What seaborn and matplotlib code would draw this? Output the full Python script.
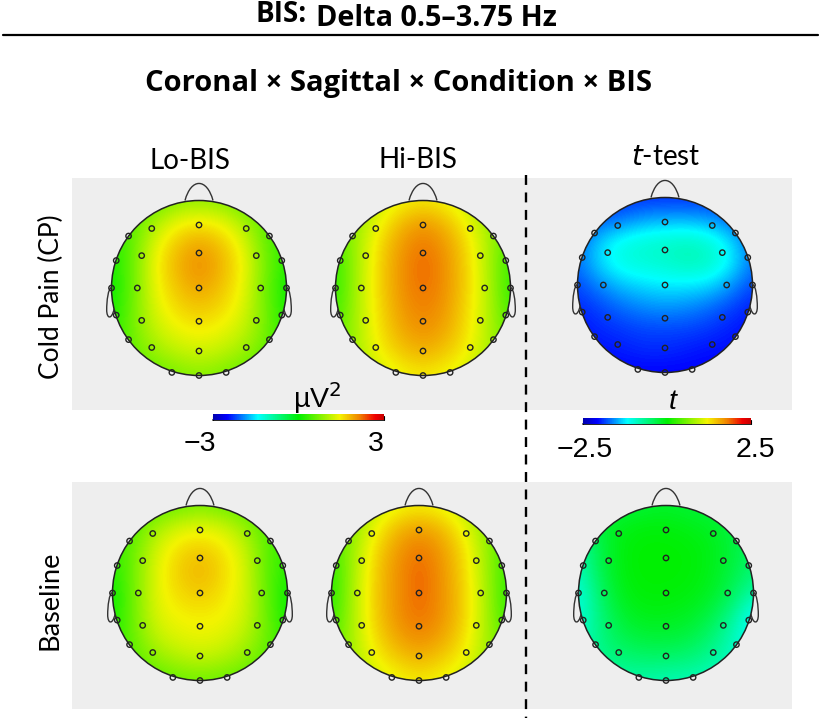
import numpy as np
import matplotlib
matplotlib.use("Agg")
import matplotlib.pyplot as plt
import matplotlib as mpl
import pandas as pd
import seaborn as sns
from matplotlib.colors import LinearSegmentedColormap, Normalize
from matplotlib.patches import Circle, Rectangle, PathPatch
from matplotlib.path import Path

sns.set_theme(style="white")
plt.rcParams["font.family"] = ["Lato", "DejaVu Sans"]

# values on a coarse scalp grid (rows front to back, columns left to right)
lo_cp = [[.35, .4, .55, .75, .85, .75, .55, .4, .35],
         [.3, .55, 1.0, 1.4, 1.5, 1.4, 1.0, .55, .3],
         [.2, .6, 1.35, 1.75, 1.95, 1.75, 1.35, .6, .25],
         [.1, .65, 1.45, 1.85, 2.1, 1.85, 1.45, .7, .2],
         [.05, .65, 1.4, 1.75, 1.95, 1.75, 1.4, .65, .05],
         [.1, .7, 1.3, 1.6, 1.72, 1.6, 1.3, .7, .1],
         [.2, .7, 1.15, 1.38, 1.48, 1.38, 1.15, .7, .2],
         [.3, .6, .9, 1.1, 1.2, 1.1, .9, .6, .3],
         [.3, .4, .55, .7, .8, .7, .55, .4, .3]]
hi_cp = [[.8, .95, 1.15, 1.4, 1.5, 1.4, 1.15, .95, .8],
         [.6, .9, 1.4, 1.8, 2.0, 1.8, 1.4, .9, .6],
         [.4, 1.0, 1.6, 2.0, 2.2, 2.0, 1.6, 1.0, .4],
         [.3, 1.0, 1.65, 2.05, 2.3, 2.05, 1.65, 1.0, .3],
         [.25, 1.05, 1.65, 2.05, 2.25, 2.05, 1.65, 1.05, .25],
         [.35, 1.05, 1.6, 2.0, 2.15, 2.0, 1.6, 1.05, .35],
         [.5, 1.05, 1.55, 1.9, 2.05, 1.9, 1.55, 1.05, .5],
         [.6, 1.0, 1.45, 1.7, 1.85, 1.7, 1.45, 1.0, .6],
         [.7, .95, 1.2, 1.4, 1.5, 1.4, 1.2, .95, .7]]
t_cp = [[-2.0, -2.0, -1.95, -1.95, -1.95, -1.95, -1.95, -2.0, -2.0],
        [-1.9, -1.8, -1.7, -1.55, -1.5, -1.5, -1.55, -1.75, -1.9],
        [-1.75, -1.35, -1.1, -1.0, -.95, -.9, -1.0, -1.3, -1.75],
        [-1.7, -1.3, -1.05, -1.0, -.95, -.85, -.9, -1.2, -1.7],
        [-1.85, -1.6, -1.4, -1.3, -1.25, -1.25, -1.3, -1.55, -1.85],
        [-1.95, -1.85, -1.7, -1.6, -1.55, -1.6, -1.7, -1.85, -2.0],
        [-2.05, -1.95, -1.9, -1.85, -1.85, -1.85, -1.9, -2.0, -2.05],
        [-2.05, -2.05, -2.0, -1.95, -1.95, -2.0, -2.05, -2.05, -2.1],
        [-2.1, -2.1, -2.1, -2.1, -2.1, -2.1, -2.1, -2.1, -2.15]]
lo_base = [[.3, .4, .5, .6, .7, .6, .5, .4, .3],
           [.3, .55, .95, 1.25, 1.35, 1.25, .9, .5, .3],
           [.25, .65, 1.25, 1.6, 1.7, 1.55, 1.2, .55, .25],
           [.2, .7, 1.35, 1.68, 1.85, 1.63, 1.3, .55, .2],
           [.05, .7, 1.35, 1.6, 1.72, 1.55, 1.28, .6, .05],
           [.1, .7, 1.3, 1.45, 1.5, 1.45, 1.25, .65, .05],
           [.2, .65, 1.15, 1.32, 1.38, 1.32, 1.1, .65, .2],
           [.3, .55, .85, 1.05, 1.15, 1.05, .85, .55, .3],
           [.3, .4, .5, .6, .65, .6, .5, .4, .3]]
hi_base = [[.7, .85, 1.1, 1.35, 1.45, 1.35, 1.1, .85, .7],
           [.5, .85, 1.4, 1.8, 1.95, 1.8, 1.4, .85, .5],
           [.35, .95, 1.6, 2.0, 2.2, 2.0, 1.6, .95, .35],
           [.25, 1.0, 1.7, 2.05, 2.3, 2.05, 1.65, 1.0, .3],
           [.2, 1.05, 1.7, 2.05, 2.3, 2.05, 1.7, 1.05, .25],
           [.3, 1.05, 1.7, 2.05, 2.25, 2.05, 1.7, 1.05, .3],
           [.45, 1.05, 1.6, 1.95, 2.1, 1.95, 1.6, 1.05, .45],
           [.6, 1.0, 1.45, 1.7, 1.85, 1.7, 1.45, 1.0, .6],
           [.7, .9, 1.2, 1.4, 1.5, 1.4, 1.2, .9, .7]]
t_base = [[-.4, -.35, -.3, -.25, -.2, -.25, -.3, -.35, -.4],
          [-.6, -.25, -.1, -.05, -.05, -.1, -.15, -.3, -.45],
          [-.8, -.3, -.05, 0, 0, -.02, -.1, -.25, -.5],
          [-.9, -.35, -.05, 0, 0, -.02, -.1, -.3, -.55],
          [-1.05, -.45, -.1, -.02, -.03, -.05, -.15, -.4, -.8],
          [-1.05, -.55, -.2, -.1, -.1, -.15, -.3, -.65, -1.2],
          [-.95, -.6, -.35, -.25, -.25, -.3, -.5, -.85, -1.2],
          [-.9, -.65, -.55, -.5, -.5, -.55, -.7, -.9, -1.1],
          [-.9, -.85, -.8, -.8, -.85, -.85, -.9, -1.0, -1.1]]

scale_limits = [3, 3, 2.5, 3, 3, 2.5]
scalp_maps = [lo_cp, hi_cp, t_cp, lo_base, hi_base, t_base]
map_centres_px = [(199, 288), (423, 288), (665, 285), (200, 593), (419, 593), (666, 593)]

# electrodes on the unit scalp circle
electrode_x = [0, 0, 0, 0, 0, 0,
               .54, .655, .705, .655, .54, .805, .946, 1.0, .946, .805, .31,
               -.54, -.655, -.705, -.655, -.54, -.805, -.946, -1.0, -.946, -.805, -.31]
electrode_y = [.72, .40, 0, -.38, -.72, -1.0,
               .68, .37, 0, -.37, -.68, .594, .314, 0, -.31, -.59, -.965,
               .68, .37, 0, -.37, -.68, .594, .314, 0, -.31, -.59, -.965]

colour_stops = [(0, "#0000b0"), (.08, "#0000ff"), (.26, "#00ffff"), (.5, "#00f000"),
                (.74, "#f4f400"), (.86, "#f08000"), (.95, "#f00000"), (1, "#c80000")]
cmap = LinearSegmentedColormap.from_list("scalp", colour_stops)

W, H = 820, 721
fig = plt.figure(figsize=(W / 100, H / 100), dpi=100, facecolor="white")
root = fig.add_axes([0, 0, 1, 1])
root.set_xlim(0, W)
root.set_ylim(H, 0)
root.axis("off")

for (x0, y0, x1, y1) in [(72, 178, 792, 410), (72, 482, 792, 709)]:
    root.add_patch(Rectangle((x0, y0), x1 - x0, y1 - y0, fc="#eeeeee", ec="none"))
root.plot([3, 818], [35, 35], color="black", lw=1.6)
root.plot([526, 526], [175, 718], color="black", lw=1.7, dashes=(4.2, 3.2))

def head(cx, cy, values, limit, radius=87.5):
    half = 1.3
    ax = fig.add_axes([(cx - half * radius) / W, 1 - (cy + half * radius) / H,
                       2 * half * radius / W, 2 * half * radius / H])
    ax.patch.set_alpha(0)
    clip = Circle((0, 0), 1, transform=ax.transData)
    im = ax.imshow(values, extent=(-1.125, 1.125, -1.125, 1.125), cmap=cmap,
                   norm=Normalize(-limit, limit), interpolation="bicubic", origin="upper")
    im.set_clip_path(clip)
    ax.add_patch(Circle((0, 0), 1, fc="none", ec="#222222", lw=1.1))
    nose = Path([(-.16, 1.0), (-.09, 1.26), (.09, 1.26), (.16, 1.0)],
                [Path.MOVETO, Path.CURVE4, Path.CURVE4, Path.CURVE4])
    ax.add_patch(PathPatch(nose, fc="none", ec="#333333", lw=1.0))
    for side in (-1, 1):
        ear = Path([(side * .995, .01), (side * 1.04, .0), (side * 1.055, -.15), (side * 1.055, -.25),
                    (side * 1.055, -.35), (side * 1.0, -.37), (side * .97, -.24)],
                   [Path.MOVETO, Path.CURVE4, Path.CURVE4, Path.CURVE4, Path.CURVE4, Path.CURVE4, Path.CURVE4])
        ax.add_patch(PathPatch(ear, fc="none", ec="#333333", lw=1.0))
    sns.scatterplot(data=pd.DataFrame({"x": electrode_x, "y": electrode_y}), x="x", y="y", ax=ax,
                    s=15, facecolor="none", edgecolor="#222222", linewidth=1.0, legend=False, zorder=5)
    ax.set_xlim(-half, half)
    ax.set_ylim(-half, half)
    ax.axis("off")

for (cx, cy), vals, lim in zip(map_centres_px, scalp_maps, scale_limits):
    head(cx, cy, vals, lim)

def colourbar(x0, x1, y0, y1, limit):
    cax = fig.add_axes([x0 / W, 1 - y1 / H, (x1 - x0) / W, (y1 - y0) / H])
    cb = mpl.colorbar.ColorbarBase(cax, cmap=cmap, norm=Normalize(-limit, limit),
                                   orientation="horizontal", ticks=[])
    cb.outline.set_visible(False)
    root.plot([x0, x1], [y1, y1], color="black", lw=1.2)
    root.plot([x0, x0], [y0 + 2, y1], color="black", lw=0.8)
    root.plot([x1, x1], [y0 + 2, y1], color="black", lw=0.8)

colourbar(213.5, 384, 414, 419.5, 3)
colourbar(583.5, 751, 418, 424, 2.5)

sans = ["Liberation Sans", "DejaVu Sans"]
bold = dict(family=["Open Sans", "DejaVu Sans"], weight="bold", ha="center", va="center", color="black")
root.text(281, 15, "BIS:", fontsize=20, **bold)
root.text(436, 18, "Delta 0.5–3.75 Hz", fontsize=20.8, **bold)
root.text(399, 83, "Coronal × Sagittal × Condition × BIS", fontsize=21, **bold)

label = dict(family=["Lato", "DejaVu Sans"], ha="center", va="center", color="black")
root.text(190, 161, "Lo-BIS", fontsize=20, **label)
root.text(418, 160, "Hi-BIS", fontsize=20, **label)
root.text(666, 157, r"$\mathit{t}$-test", math_fontfamily="dejavusans", fontsize=20, **label)
root.text(51, 297, "Cold Pain (CP)", rotation=90, fontsize=19, **label)
root.text(50, 600, "Baseline", rotation=90, fontsize=19.5, **label)

num = dict(family=sans, ha="center", va="center", color="black", fontsize=20.5)
root.text(317, 398, r"µV$^2$", math_fontfamily="custom", **num)
root.text(200, 444, "−3", **num)
root.text(376, 444, "3", **num)
root.text(673, 402, "t", family=sans, style="italic", ha="center", va="center", color="black", fontsize=20.5)
root.text(585, 450, "−2.5", **num)
root.text(755, 450, "2.5", **num)

fig.savefig("out.png", dpi=100)
